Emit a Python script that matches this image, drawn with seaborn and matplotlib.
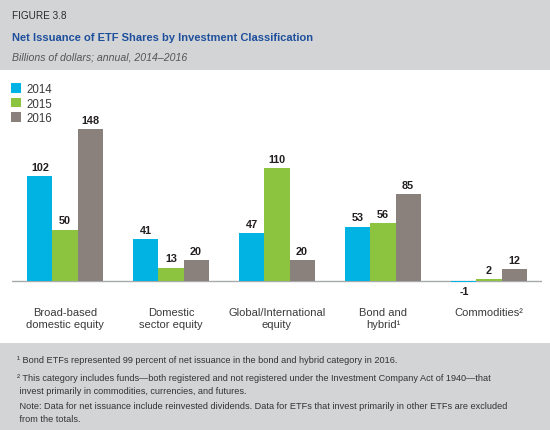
import matplotlib
matplotlib.use("Agg")
import matplotlib.pyplot as plt
import seaborn as sns
import pandas as pd
from matplotlib.patches import Rectangle

categories = ["Broad-based\ndomestic equity", "Domestic\nsector equity",
              "Global/International\nequity", "Bond and\nhybrid\u00b9", "Commodities\u00b2"]
years = ["2014", "2015", "2016"]
v2014 = [102, 41, 47, 53, -1]
v2015 = [50, 13, 110, 56, 2]
v2016 = [148, 20, 20, 85, 12]
colors = ["#00b3e3", "#8dc43f", "#8b817c"]

rows = []
for yr, vals in zip(years, [v2014, v2015, v2016]):
    for c, v in zip(categories, vals):
        rows.append({"category": c, "year": yr, "value": v})
df = pd.DataFrame(rows)

sns.set_style("white")
W, H = 550, 431
fig = plt.figure(figsize=(W / 100, H / 100), dpi=100)
fig.patch.set_facecolor("white")

def fy(px):
    return 1 - px / H

def fx(px):
    return px / W

band = "#d3d4d6"
fig.patches.append(Rectangle((0, fy(70.5)), 1, 70.5 / H, transform=fig.transFigure,
                             facecolor=band, edgecolor="none", zorder=0))
fig.patches.append(Rectangle((0, 0), 1, (H - 344) / H, transform=fig.transFigure,
                             facecolor=band, edgecolor="none", zorder=0))

REG = ["Liberation Sans", "DejaVu Sans"]

fig.text(fx(12), fy(19.3), "FIGURE 3.8", family=REG, fontsize=7.2, color="#2b2b2b", va="baseline")
fig.text(fx(12), fy(40.7), "Net Issuance of ETF Shares by Investment Classification",
         family=REG, fontsize=8.0, fontweight="bold", color="#1d4f9c", va="baseline")
fig.text(fx(12), fy(60.5), "Billions of dollars; annual, 2014\u20132016", family=REG,
         fontsize=7.6, style="italic", color="#555555", va="baseline")

# axes placement
ax_top, ax_bot = 80, 290
ax = fig.add_axes([fx(12), fy(ax_bot), fx(542) - fx(12), (ax_bot - ax_top) / H])
scale = 1.027
ymin = -(ax_bot - 282) / scale
ymax = ymin + (ax_bot - ax_top) / scale

sns.barplot(data=df, x="category", y="value", hue="year", palette=colors,
            width=0.71, gap=0, linewidth=0, saturation=1, ax=ax, legend=False)
ax.set_xlim(-0.5, 4.5)
ax.set_ylim(ymin, ymax)
ax.axhline(0, color="#a7a9ac", lw=1, zorder=0.5)
for s in ax.spines.values():
    s.set_visible(False)
ax.set_yticks([])
ax.set_xlabel("")
ax.set_ylabel("")
ax.tick_params(axis="x", length=0, pad=13)
ax.set_xticks(range(len(categories)))
ax.set_xticklabels(categories, family=REG, fontsize=8, color="#3a3a3a", linespacing=1.2)
ax.set_facecolor("none")

for cont in ax.containers:
    ax.bar_label(cont, fmt="%d", padding=3, family=REG, fontsize=7.8,
                 fontweight="bold", color="#231f20")

handles = [Rectangle((0, 0), 1, 1, facecolor=c, edgecolor="none") for c in colors]
ax.legend(handles, years, loc="upper left", bbox_to_anchor=(fx(11), fy(84)),
          bbox_transform=fig.transFigure, frameon=False, handlelength=0.85,
          handleheight=0.85, handletextpad=0.45, labelspacing=0.22, borderpad=0,
          borderaxespad=0, prop={"family": REG, "size": 8.3}, labelcolor="#3a3a3a")

notes = [
    (362.7, "\u00b9 Bond ETFs represented 99 percent of net issuance in the bond and hybrid category in 2016."),
    (381.0, "\u00b2 This category includes funds\u2014both registered and not registered under the Investment Company Act of 1940\u2014that"),
    (394.5, " invest primarily in commodities, currencies, and futures."),
    (409.0, " Note: Data for net issuance include reinvested dividends. Data for ETFs that invest primarily in other ETFs are excluded"),
    (422.5, " from the totals."),
]
for y, t in notes:
    fig.text(fx(17), fy(y), t, family=REG, fontsize=6.6, color="#333333", va="baseline")

fig.savefig("out.png", dpi=100, facecolor="white")
